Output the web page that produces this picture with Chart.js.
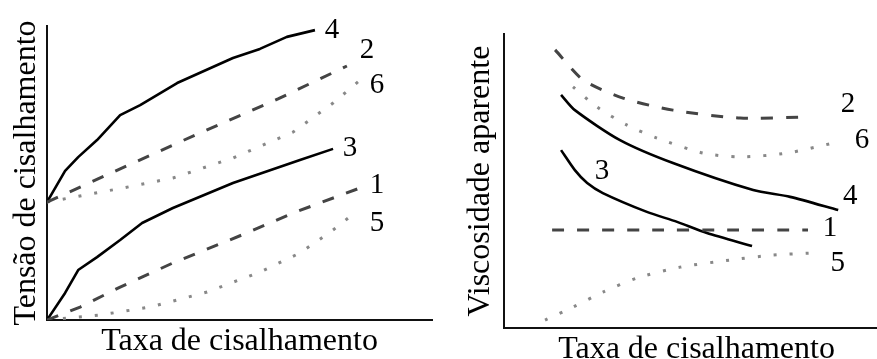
<!DOCTYPE html>
<html>
<head>
<meta charset="utf-8">
<script src="https://cdn.jsdelivr.net/npm/chart.js@4/dist/chart.umd.min.js"></script>
<style>
  body { margin: 0; background: #fff; }
  #wrap { position: relative; width: 877px; height: 359px; }
  .panel { position: absolute; top: 0; height: 359px; }
</style>
</head>
<body>
<div id="wrap">
  <div class="panel" style="left:0;width:440px"><canvas id="stressChart"></canvas></div>
  <div class="panel" style="left:440px;width:437px"><canvas id="viscChart"></canvas></div>
</div>
<script>
// curve numbers, in dataset order
const curveNames = ["1", "2", "3", "4", "5", "6"];

// shear stress vs shear rate, [rate, stress]
const tensao1 = [[0, 0], [8.6, 4.4], [19, 11.2], [32.7, 19.4], [51.9, 29.6], [63.9, 36.4], [81.3, 44.9]];
const tensao2 = [[0, 40.1], [20, 52], [40, 63.8], [60, 75.2], [77.9, 86.4]];
const tensao3 = [[0, 0], [4.7, 9.2], [8.1, 17], [13, 21.4], [19, 27.2], [24.7, 33], [32.7, 38.1], [48.3, 46.6], [65.7, 54.4], [74.3, 58.2]];
const tensao4 = [[0, 40.1], [4.7, 50.7], [8.1, 55.4], [13, 61.2], [19, 69.7], [24.2, 73.1], [33.8, 80.6], [48.3, 89.1], [55.3, 92.2], [62.3, 96.3], [69.6, 98.6]];
const tensao5 = [[0, 0], [13.8, 1.7], [26.8, 4.4], [41.6, 9.5], [55.3, 16.3], [65.7, 22.8], [74.3, 30.6], [79.2, 35.7]];
const tensao6 = [[0, 40.1], [19.7, 44.9], [32.7, 48.3], [48.3, 55.1], [63.9, 63.9], [74.3, 73.8], [80.8, 81]];
// where each curve number sits, same units
const tensaoLabels = [[85.7, 45.9], [83.1, 91.8], [78.7, 58.5], [74, 98.6], [85.7, 33], [85.7, 79.9]];

// apparent viscosity vs shear rate, [rate, viscosity]
const visc1 = [[12.9, 33.3], [40, 33.3], [60, 33.3], [81.5, 33.3]];
const visc2 = [[13.7, 94.6], [21.2, 84.4], [31.9, 78.2], [45.3, 74.1], [63.3, 71.4], [82, 71.8]];
const visc3 = [[15.3, 60.5], [19, 53.7], [22.3, 49.3], [26.5, 45.9], [38.3, 39.5], [46.4, 36.1], [54.4, 32.3], [66.5, 27.9]];
const visc4 = [[15.3, 79.3], [19, 74.1], [31.1, 63.9], [45.3, 56.1], [66.8, 46.9], [76.7, 44.6], [89.6, 40.1]];
const visc5 = [[11, 2.7], [18.5, 7.1], [26.5, 12.2], [35.7, 17], [47.2, 20.7], [60.6, 23.1], [72.1, 24.8], [82.8, 25.5]];
const visc6 = [[18.5, 82], [24.9, 75.2], [33, 69], [41, 64.6], [53.4, 59.5], [63.3, 58.2], [75.9, 59.5], [88.2, 62.9]];
const viscLabels = [[87.4, 34], [92.2, 75.9], [26.3, 53.1], [92.8, 44.6], [89.5, 22.1], [96, 63.9]];

const serif = "'Liberation Serif', 'Times New Roman', serif";

// 1-2 dashed, 3-4 solid, 5-6 dotted
const styles = {
  dashed: { borderColor: "#444", borderWidth: 3, borderDash: [12, 13] },
  solid:  { borderColor: "#000", borderWidth: 2.6, borderDash: [] },
  dotted: { borderColor: "#888", borderWidth: 3, borderDash: [3, 13] }
};
const curveStyle = ["dashed", "dashed", "solid", "solid", "dotted", "dotted"];

function makeDatasets(curves, tension) {
  return curves.map((pts, i) => Object.assign({
    label: curveNames[i],
    data: pts.map(p => ({ x: p[0], y: p[1] })),
    pointRadius: 0,
    fill: false,
    tension: tension,
    borderCapStyle: "butt",
    borderJoinStyle: "round"
  }, styles[curveStyle[i]]));
}

// curve numbers and axis titles
const textPlugin = {
  id: "panelText",
  afterDatasetsDraw(chart, args, opts) {
    const { ctx, chartArea: a, scales: { x, y } } = chart;
    ctx.save();
    ctx.fillStyle = "#000";
    ctx.font = "29px " + serif;
    ctx.textAlign = "center";
    ctx.textBaseline = "middle";
    opts.labels.forEach((p, i) => {
      ctx.fillText(curveNames[i], x.getPixelForValue(p[0]), y.getPixelForValue(p[1]));
    });
    ctx.font = "32px " + serif;
    ctx.textBaseline = "alphabetic";
    ctx.fillText(opts.xTitle, (a.left + a.right) / 2 + opts.xShift, a.bottom + opts.xGap);
    ctx.translate(a.left - opts.yGap, (a.top + a.bottom) / 2);
    ctx.rotate(-Math.PI / 2);
    ctx.fillText(opts.yTitle, 0, 0);
    ctx.restore();
  }
};

function axis() {
  return {
    type: "linear", min: 0, max: 100,
    grid: { display: false, drawTicks: false },
    ticks: { display: false },
    border: { display: true, color: "#111", width: 2 }
  };
}

function makeChart(id, curves, labels, tension, padding, text) {
  return new Chart(document.getElementById(id), {
    type: "line",
    data: { datasets: makeDatasets(curves, tension) },
    options: {
      responsive: true,
      maintainAspectRatio: false,
      animation: false,
      events: [],
      layout: { padding: padding },
      scales: { x: axis(), y: axis() },
      plugins: {
        legend: { display: false },
        tooltip: { enabled: false },
        panelText: Object.assign({ labels: labels }, text)
      }
    },
    plugins: [textPlugin]
  });
}

makeChart("stressChart",
  [tensao1, tensao2, tensao3, tensao4, tensao5, tensao6], tensaoLabels, 0,
  { left: 47, top: 26, right: 8, bottom: 39 },
  { xTitle: "Taxa de cisalhamento", yTitle: "Tensão de cisalhamento", xGap: 30, xShift: 0, yGap: 12 });

makeChart("viscChart",
  [visc1, visc2, visc3, visc4, visc5, visc6], viscLabels, 0.25,
  { left: 64, top: 34, right: 0, bottom: 31 },
  { xTitle: "Taxa de cisalhamento", yTitle: "Viscosidade aparente", xGap: 30, xShift: 6, yGap: 15 });
</script>
</body>
</html>
